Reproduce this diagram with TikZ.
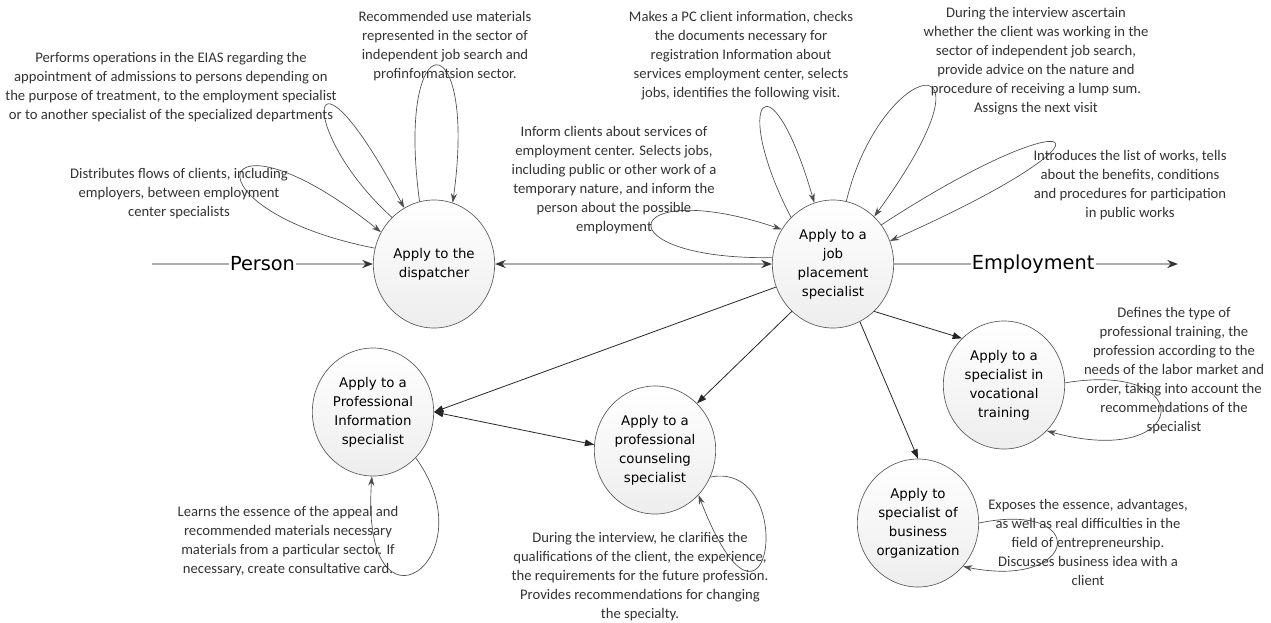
\documentclass[tikz,border=0pt]{standalone}
\usepackage{fontspec}
\setmainfont{Carlito}
\newfontfamily\nodefont{DejaVu Sans}
\usetikzlibrary{shapes.geometric,arrows.meta}
\begin{document}
\begin{tikzpicture}[x=0.75pt,y=-0.75pt,
  stage/.style={ellipse, draw=gray!70!black, line width=0.5pt, top color=white, bottom color=gray!14,
    minimum width=91pt, minimum height=96pt, inner sep=0pt, align=center,
    font=\nodefont\fontsize{10}{14.25}\selectfont},
  note/.style={align=center, text=black!80, font=\fontsize{11}{14.25}\selectfont, inner sep=0pt},
  flowline/.style={draw=gray!65, line width=1.3pt},
  flowtip/.style={-{Stealth[length=8pt,width=6pt,color=gray!40!black]}},
  conn/.style={draw=black!85, line width=0.6pt, -{Triangle[length=7pt,width=5pt]}},
  selfloop/.style={draw=black!70, line width=0.5pt, -{Stealth[length=7pt,width=4.5pt]}},
  biglabel/.style={font=\nodefont\fontsize{14.5}{17}\selectfont, fill=white, inner sep=1pt}
]
\useasboundingbox (0,0) rectangle (1271,622);

% stages
\node[stage] (disp) at (434,264) {Apply to the\\dispatcher};
\node[stage] (job) at (833,264) {Apply to a\\job\\placement\\specialist};
\node[stage] (info) at (373,412) {Apply to a\\Professional\\Information\\specialist};
\node[stage] (couns) at (655,450) {Apply to a\\professional\\counseling\\specialist};
\node[stage] (voc) at (1004,385) {Apply to a\\specialist in\\vocational\\training};
\node[stage] (bus) at (918,523) {Apply to\\specialist of\\business\\organization};

% free ends
\coordinate (pstart) at (152,264);
\coordinate (eend) at (1178,264);

% main flow
\draw[flowline, flowtip] (pstart) -- node[biglabel] (person) {Person} (disp.west);
\draw[flowline, {Stealth[length=8pt,width=6pt,color=gray!40!black]}-{Stealth[length=8pt,width=6pt,color=gray!40!black]}] (disp.east) -- (job.west);
\draw[flowline, flowtip] (job.east) -- node[biglabel, pos=0.49] (empl) {Employment} (eend);

% connections
\draw[conn] (job.202) -- (info.0);
\draw[conn, {Triangle[length=7pt,width=5pt]}-{Triangle[length=7pt,width=5pt]}] (info.0) -- (couns.175);
\draw[conn] (job.229) -- (couns.48);
\draw[conn] (job.311) -- (voc.132);
\draw[conn] (job.295) -- (bus.90);

% self loops
\draw[selfloop] (disp.165) .. controls (180,210) and (210,95) .. (disp.149);
\draw[selfloop] (disp.132) .. controls (295,130) and (305,20) .. (disp.118);
\draw[selfloop] (disp.103) .. controls (395,20) and (478,20) .. (disp.73);
\draw[selfloop] (job.174) .. controls (600,260) and (620,175) .. (job.146);
\draw[selfloop] (job.132) .. controls (730,100) and (770,50) .. (job.107);
\draw[selfloop] (job.78) .. controls (880,60) and (1010,30) .. (job.49);
\draw[selfloop] (job.39) .. controls (1080,95) and (1140,130) .. (job.22);
\draw[selfloop] (info.313) .. controls (490,560) and (360,650) .. (info.269);
\draw[selfloop] (couns.334) .. controls (800,460) and (770,680) .. (couns.314);
\draw[selfloop] (voc.2) .. controls (1200,360) and (1190,470) .. (voc.313);
\draw[selfloop] (bus.0) .. controls (1090,500) and (1080,590) .. (bus.316);

% notes
\node[note] (n1) at (179,194) {Distributes flows of clients, including\\employers, between employment\\center specialists};
\node[note] (n2) at (171,87) {Performs operations in the EIAS regarding the\\appointment of admissions to persons depending on\\the purpose of treatment, to the employment specialist\\or to another specialist of the specialized departments};
\node[note] (n3) at (445,46) {Recommended use materials\\represented in the sector of\\independent job search and\\profinformatsion sector.};
\node[note] (n4) at (614,180) {Inform clients about services of\\employment center. Selects jobs,\\including public or other work of a\\temporary nature, and inform the\\person about the possible\\employment};
\node[note] (n5) at (741,56) {Makes a PC client information, checks\\the documents necessary for\\registration Information about\\services employment center, selects\\jobs, identifies the following visit.};
\node[note] (n6) at (1036,61) {During the interview ascertain\\whether the client was working in the\\sector of independent job search,\\provide advice on the nature and\\procedure of receiving a lump sum.\\Assigns the next visit};
\node[note] (n7) at (1130,185) {Introduces the list of works, tells\\about the benefits, conditions\\and procedures for participation\\in public works};
\node[note] (n8) at (1174,371) {Defines the type of\\professional training, the\\profession according to the\\needs of the labor market and\\order, taking into account the\\recommendations of the\\specialist};
\node[note] (n9) at (1088,542) {Exposes the essence, advantages,\\as well as real difficulties in the\\field of entrepreneurship.\\Discusses business idea with a\\client};
\node[note] (n10) at (640,577) {During the interview, he clarifies the\\qualifications of the client, the experience,\\the requirements for the future profession.\\Provides recommendations for changing\\the specialty.};
\node[note] (n11) at (288,541) {Learns the essence of the appeal and\\recommended materials necessary\\materials from a particular sector. If\\necessary, create consultative card.};
\end{tikzpicture}
\end{document}
